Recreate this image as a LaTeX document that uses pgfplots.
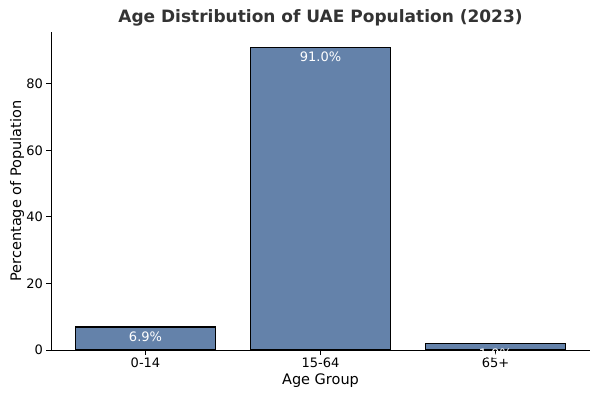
\documentclass[border=0pt]{standalone}
\usepackage{fontspec}
\setmainfont{DejaVu Sans}
\usepackage{pgfplots}
\pgfplotsset{compat=1.18}
\definecolor{barc}{RGB}{100,130,170}
\definecolor{titlec}{RGB}{51,51,51}
\begin{document}
\begin{tikzpicture}
\begin{axis}[
 name=ax, at={(0,0)}, anchor=south west,
 scale only axis, width=539pt, height=318pt,
 xmin=-0.54, xmax=2.54, ymin=0, ymax=95.55,
 axis x line*=bottom, axis y line*=left,
 axis line style={line width=0.9pt, -},
 xtick={0,1,2}, xticklabels={0-14,15-64,65+},
 ytick={0,20,40,60,80},
 tick align=outside, major tick length=4.5pt,
 tick style={black, line width=0.9pt},
 tick label style={font=\fontsize{13}{15}\selectfont},
 /pgf/number format/assume math mode=true,
 xlabel={Age Group}, ylabel={Percentage of Population},
 label style={font=\fontsize{14.5}{17}\selectfont},
 xlabel style={at={(axis description cs:0.5,-0.097)}, anchor=center},
 ylabel style={at={(axis description cs:-0.063,0.5)}, anchor=center, rotate=0},
 title={Age Distribution of UAE Population (2023)},
 title style={font=\bfseries\fontsize{17}{20}\selectfont, text=titlec, at={(axis description cs:0.5,1)}, anchor=center, yshift=8pt},
 clip=false,
 ybar, bar width=0.8,
]
\addplot[fill=barc, draw=black, line width=1.2pt,
  nodes near coords={\pgfmathprintnumber[fixed,fixed zerofill,precision=1]{\pgfplotspointmeta}\%},
  every node near coord/.append style={anchor=center, text=white, yshift=-10pt, font=\fontsize{13}{15}\selectfont}]
 coordinates {(0,6.9) (1,91.0) (2,1.9)};
\end{axis}
\pgfresetboundingbox
\path[use as bounding box] (-51pt,-47pt) rectangle (549pt,350pt);
\end{tikzpicture}
\end{document}
